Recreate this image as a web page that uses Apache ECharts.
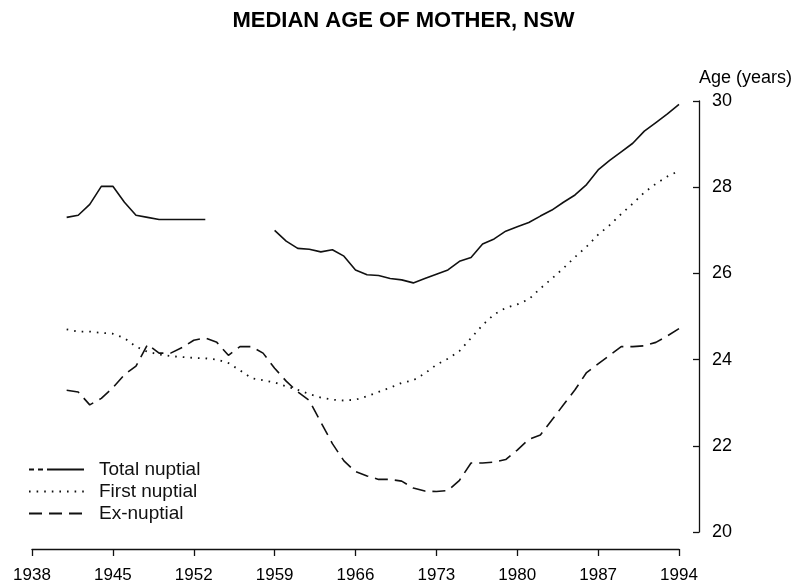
<!DOCTYPE html>
<html>
<head>
<meta charset="utf-8">
<script src="https://cdn.jsdelivr.net/npm/echarts@6/dist/echarts.min.js"></script>
<style>
  html, body { margin: 0; padding: 0; background: #fff; }
  #main { width: 807px; height: 586px; }
</style>
</head>
<body>
<div id="main"></div>
<script>
// years of the series, one point per year
const years = [1941, 1942, 1943, 1944, 1945, 1946, 1947, 1948, 1949, 1950,
  1951, 1952, 1953, 1954, 1955, 1956, 1957, 1958, 1959, 1960,
  1961, 1962, 1963, 1964, 1965, 1966, 1967, 1968, 1969, 1970,
  1971, 1972, 1973, 1974, 1975, 1976, 1977, 1978, 1979, 1980,
  1981, 1982, 1983, 1984, 1985, 1986, 1987, 1988, 1989, 1990,
  1991, 1992, 1993, 1994];

// median age, total nuptial (no data 1954-1958)
const totalNuptial = [27.3, 27.35, 27.6, 28.02, 28.02, 27.65, 27.35, 27.3, 27.25, 27.25,
  27.25, 27.25, 27.25, null, null, null, null, null, 27.0, 26.75,
  26.58, 26.56, 26.5, 26.55, 26.4, 26.08, 25.97, 25.95, 25.88, 25.85,
  25.78, 25.88, 25.98, 26.08, 26.28, 26.37, 26.68, 26.8, 26.98, 27.08,
  27.18, 27.33, 27.47, 27.65, 27.82, 28.06, 28.4, 28.62, 28.82, 29.02,
  29.3, 29.5, 29.7, 29.92];

// median age, first nuptial
const firstNuptial = [24.7, 24.65, 24.65, 24.62, 24.6, 24.5, 24.3, 24.18, 24.12, 24.08,
  24.06, 24.04, 24.03, 24.0, 23.92, 23.75, 23.57, 23.52, 23.47, 23.38,
  23.3, 23.2, 23.12, 23.07, 23.05, 23.07, 23.15, 23.25, 23.35, 23.46,
  23.52, 23.68, 23.88, 24.02, 24.2, 24.5, 24.8, 25.05, 25.2, 25.28,
  25.4, 25.65, 25.88, 26.12, 26.38, 26.62, 26.9, 27.12, 27.38, 27.62,
  27.88, 28.08, 28.25, 28.38];

// median age, ex-nuptial
const exNuptial = [23.29, 23.25, 22.95, 23.1, 23.35, 23.65, 23.85, 24.35, 24.15, 24.15,
  24.28, 24.45, 24.5, 24.4, 24.1, 24.3, 24.3, 24.15, 23.8, 23.5,
  23.25, 23.05, 22.55, 22.05, 21.65, 21.4, 21.3, 21.22, 21.22, 21.18,
  21.02, 20.95, 20.94, 20.96, 21.2, 21.6, 21.6, 21.62, 21.68, 21.9,
  22.15, 22.25, 22.6, 22.95, 23.3, 23.7, 23.9, 24.1, 24.3, 24.3,
  24.32, 24.4, 24.55, 24.72];

const firstYear = 1938;
const lastYear = 1994;
const yearStep = 7;

const font = 'Liberation Sans, Arial, sans-serif';
const ink = '#111';

// x axis runs in years since 1938 so the 7-year ticks start at 1938
const pairs = (vals) => years.map((y, i) => [y - firstYear, vals[i]]);

const myChart = echarts.init(document.getElementById('main'));
const option = {
  backgroundColor: '#fff',
  animation: false,
  title: {
    text: 'MEDIAN AGE OF MOTHER, NSW',
    left: 'center',
    top: 10,
    padding: 0,
    textStyle: { fontFamily: font, fontSize: 22, fontWeight: 900, color: '#000' }
  },
  legend: {
    orient: 'vertical',
    left: 23,
    top: 455,
    itemWidth: 55,
    itemHeight: 14,
    itemGap: 3,
    itemStyle: { opacity: 0 },
    textStyle: { fontFamily: font, fontSize: 19, color: ink, padding: [0, 0, 0, 10] },
    data: [
      { name: 'Total nuptial', lineStyle: { type: [5, 4, 5, 4, 40, 0] } },
      { name: 'First nuptial' },
      { name: 'Ex-nuptial' }
    ]
  },
  grid: { left: 32, right: 128, top: 101, bottom: 54 },
  xAxis: {
    type: 'value',
    min: 0,
    max: lastYear - firstYear,
    interval: yearStep,
    offset: 17,
    axisLine: { onZero: false, lineStyle: { color: ink, width: 1.3 } },
    axisTick: { length: 7, lineStyle: { color: ink, width: 1.3 } },
    axisLabel: {
      margin: 18,
      fontFamily: font, fontSize: 17, color: '#000',
      formatter: (v) => String(firstYear + v)
    },
    splitLine: { show: false }
  },
  yAxis: {
    type: 'value',
    position: 'right',
    min: 20,
    max: 30,
    interval: 2,
    offset: 20,
    name: 'Age (years)',
    nameLocation: 'end',
    nameGap: 14,
    nameTextStyle: { fontFamily: font, fontSize: 18, color: '#000', align: 'left' },
    axisLine: { show: true, onZero: false, lineStyle: { color: ink, width: 1.3 } },
    axisTick: { show: true, inside: true, length: 6, lineStyle: { color: ink, width: 1.3 } },
    axisLabel: { margin: 13, fontFamily: font, fontSize: 18, color: '#000' },
    splitLine: { show: false }
  },
  series: [
    {
      name: 'Total nuptial',
      type: 'line',
      data: pairs(totalNuptial),
      symbol: 'none',
      connectNulls: false,
      lineStyle: { color: ink, width: 1.6 },
      itemStyle: { color: ink }
    },
    {
      name: 'First nuptial',
      type: 'line',
      data: pairs(firstNuptial),
      symbol: 'none',
      lineStyle: { color: ink, width: 1.8, type: [1.6, 6] },
      itemStyle: { color: ink }
    },
    {
      name: 'Ex-nuptial',
      type: 'line',
      data: pairs(exNuptial),
      symbol: 'none',
      lineStyle: { color: ink, width: 1.6, type: [13, 7] },
      itemStyle: { color: ink }
    }
  ]
};
option && myChart.setOption(option);
</script>
</body>
</html>
